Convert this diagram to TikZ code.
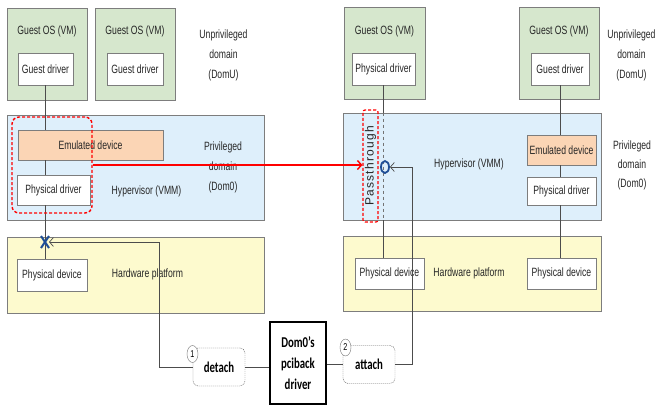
\documentclass[tikz,border=0pt]{standalone}
\usepackage{fontspec}
\setmainfont{Liberation Sans}[FakeStretch=0.72]
\newfontfamily\boldfont{Carlito}[FakeStretch=0.72]
\newfontfamily\widefont{Liberation Sans}[LetterSpace=10]
\usetikzlibrary{arrows.meta,shapes.geometric}

\definecolor{vmgreen}{RGB}{214,231,205}
\definecolor{hvblue}{RGB}{222,239,251}
\definecolor{emuorange}{RGB}{251,213,181}
\definecolor{hwyellow}{RGB}{253,250,206}
\definecolor{edgegray}{RGB}{125,125,125}
\definecolor{markblue}{RGB}{31,78,150}

\tikzset{
  panel/.style 2 args={draw=edgegray,line width=0.9pt,inner sep=0pt,
    minimum width=#1,minimum height=#2},
  txt/.style={font=\fontsize{12}{14}\selectfont,text=black!85,inner sep=0pt},
  side/.style={txt,align=center,font=\fontsize{12}{20}\selectfont},
  wire/.style={draw=black!70,line width=0.7pt},
  numc/.style={draw=black!55,fill=white,ellipse,inner sep=0pt,
    minimum width=11pt,minimum height=17pt,font=\fontsize{10}{10}\selectfont},
  action/.style={draw=black!60,dash pattern=on 1.2pt off 0.8pt,rounded corners=5pt,
    fill=white,minimum width=52,minimum height=38,inner sep=0pt,
    font=\boldfont\bfseries\fontsize{15}{17}\selectfont},
}

\begin{document}
\begin{tikzpicture}[x=1pt,y=-1pt,>={Straight Barb[length=4pt,width=9pt]}]
  \useasboundingbox (0,0) rectangle (657,405);

  % ---- left: emulated I/O ----
  \node[panel={80}{92},fill=vmgreen] (gos1) at (47,54) {};
  \node[panel={80}{92},fill=vmgreen] (gos2) at (135,54) {};
  \node[txt] at (47,31) {Guest OS (VM)};
  \node[txt] at (135,31) {Guest OS (VM)};
  \node[panel={55}{32},fill=white,txt] (gdrv1) at (45.5,69) {Guest driver};
  \node[panel={56}{32},fill=white,txt] (gdrv2) at (135,69) {Guest driver};
  \node[side] at (223.5,55) {Unprivileged\\domain\\(DomU)};

  \node[panel={257}{105},fill=hvblue] (hyp1) at (135.5,167.5) {};
  \node[panel={145}{30},fill=emuorange,txt] (emu1) at (90.5,145) {Emulated device};
  \node[panel={73}{30},fill=white,txt] (pdrv1) at (53.5,190) {Physical driver};
  \node[txt] at (146.5,191) {Hypervisor (VMM)};
  \node[side] at (223,167) {Privileged\\domain\\(Dom0)};

  \node[panel={257}{76},fill=hwyellow] (hw1) at (135.5,275) {};
  \node[panel={70}{32},fill=white,txt] (pdev1) at (52,275) {Physical device};
  \node[txt] at (147.5,274) {Hardware platform};

  \draw[wire] (gdrv1.south) -- (gdrv1.south |- emu1.north);
  \draw[wire] (gdrv1.south |- emu1.south) -- (gdrv1.south |- pdrv1.north);
  \draw[wire] (gdrv1.south |- pdrv1.south) -- (gdrv1.south |- pdev1.north);
  \coordinate (cut) at (45,242);
  \draw[markblue,line width=2pt] ([shift={(-4,-6)}]cut) -- ([shift={(4,6)}]cut)
    ([shift={(-4,6)}]cut) -- ([shift={(4,-6)}]cut);

  \node[draw=red,dash pattern=on 3pt off 2pt,line width=1.4pt,rounded corners=7pt,
    minimum width=80,minimum height=96,inner sep=0pt] (sel1) at (52,165) {};

  % ---- right: passthrough ----
  \node[panel={81}{92},fill=vmgreen] (gos3) at (384.5,53) {};
  \node[panel={80}{92},fill=vmgreen] (gos4) at (559,53) {};
  \node[txt] at (384.5,31) {Guest OS (VM)};
  \node[txt] at (559,31) {Guest OS (VM)};
  \node[panel={63}{32},fill=white,txt] (pdrv3) at (383.5,69) {Physical driver};
  \node[panel={58}{32},fill=white,txt] (gdrv4) at (560,69) {Guest driver};
  \node[side] at (631.5,55) {Unprivileged\\domain\\(DomU)};

  \node[panel={258}{107},fill=hvblue] (hyp2) at (472,166.5) {};
  \node[panel={69}{30},fill=emuorange,txt] (emu2) at (561.5,150) {Emulated device};
  \node[panel={69}{28},fill=white,txt] (pdrv4) at (561.5,191) {Physical driver};
  \node[txt] at (469,164) {Hypervisor (VMM)};
  \node[side,font=\fontsize{12}{19}\selectfont] at (632,165) {Privileged\\domain\\(Dom0)};

  \node[panel={258}{75},fill=hwyellow] (hw2) at (472,273.5) {};
  \node[panel={69}{31},fill=white,txt] (pdev3) at (389.5,273.5) {Physical device};
  \node[panel={69}{31},fill=white,txt] (pdev4) at (561.5,273.5) {Physical device};
  \node[txt] at (469,273) {Hardware platform};

  \draw[wire] (pdrv3.south) -- (pdrv3.south |- hyp2.north);
  \draw[wire,draw=black!55,dashed] (pdrv3.south |- hyp2.north) -- (pdrv3.south |- hyp2.south);
  \draw[wire] (pdrv3.south |- hyp2.south) -- (pdrv3.south |- pdev3.north);
  \draw[wire] (gdrv4.south) -- (gdrv4.south |- emu2.north);
  \draw[wire] (gdrv4.south |- emu2.south) -- (gdrv4.south |- pdrv4.north);
  \draw[wire] (gdrv4.south |- pdrv4.south) -- (gdrv4.south |- pdev4.north);

  \node[draw=red,dash pattern=on 3pt off 2pt,line width=1.2pt,rounded corners=2pt,
    minimum width=15,minimum height=112,inner sep=0pt] (pass) at (370.5,166) {};
  \node[txt,rotate=90,font=\widefont\fontsize{12}{12}\selectfont] at (pass.center) {Passthrough};
  \node[draw=markblue,line width=1.8pt,ellipse,inner sep=0pt,
    minimum width=8pt,minimum height=12pt] (plug) at (385,167) {};

  \draw[red,line width=1.4pt,->] (sel1.east) -- (sel1.east -| pass.west);

  % ---- pciback steps ----
  \node[draw=black,line width=1.5pt,fill=white,minimum width=56,minimum height=82,
    inner sep=0pt,align=center,font=\boldfont\bfseries\fontsize{15}{21}\selectfont]
    (pciback) at (298,363) {Dom0’s\\pciback\\driver};
  \node[action] (detach) at (219,367) {detach};
  \node[action] (attach) at (369,364.5) {attach};
  \node[numc] (n1) at (192.5,354) {1};
  \node[numc] (n2) at (345.5,347.5) {2};

  \draw[wire] (detach.east) -- (detach.east -| pciback.west);
  \draw[wire] (pciback.east |- attach.west) -- (attach.west);
  \draw[wire,->,shorten >=4pt] (detach.west) -- ++(-33,0) |- (cut);
  \draw[wire,->] (attach.east) -- ++(17,0) |- (plug.east);
\end{tikzpicture}
\end{document}
